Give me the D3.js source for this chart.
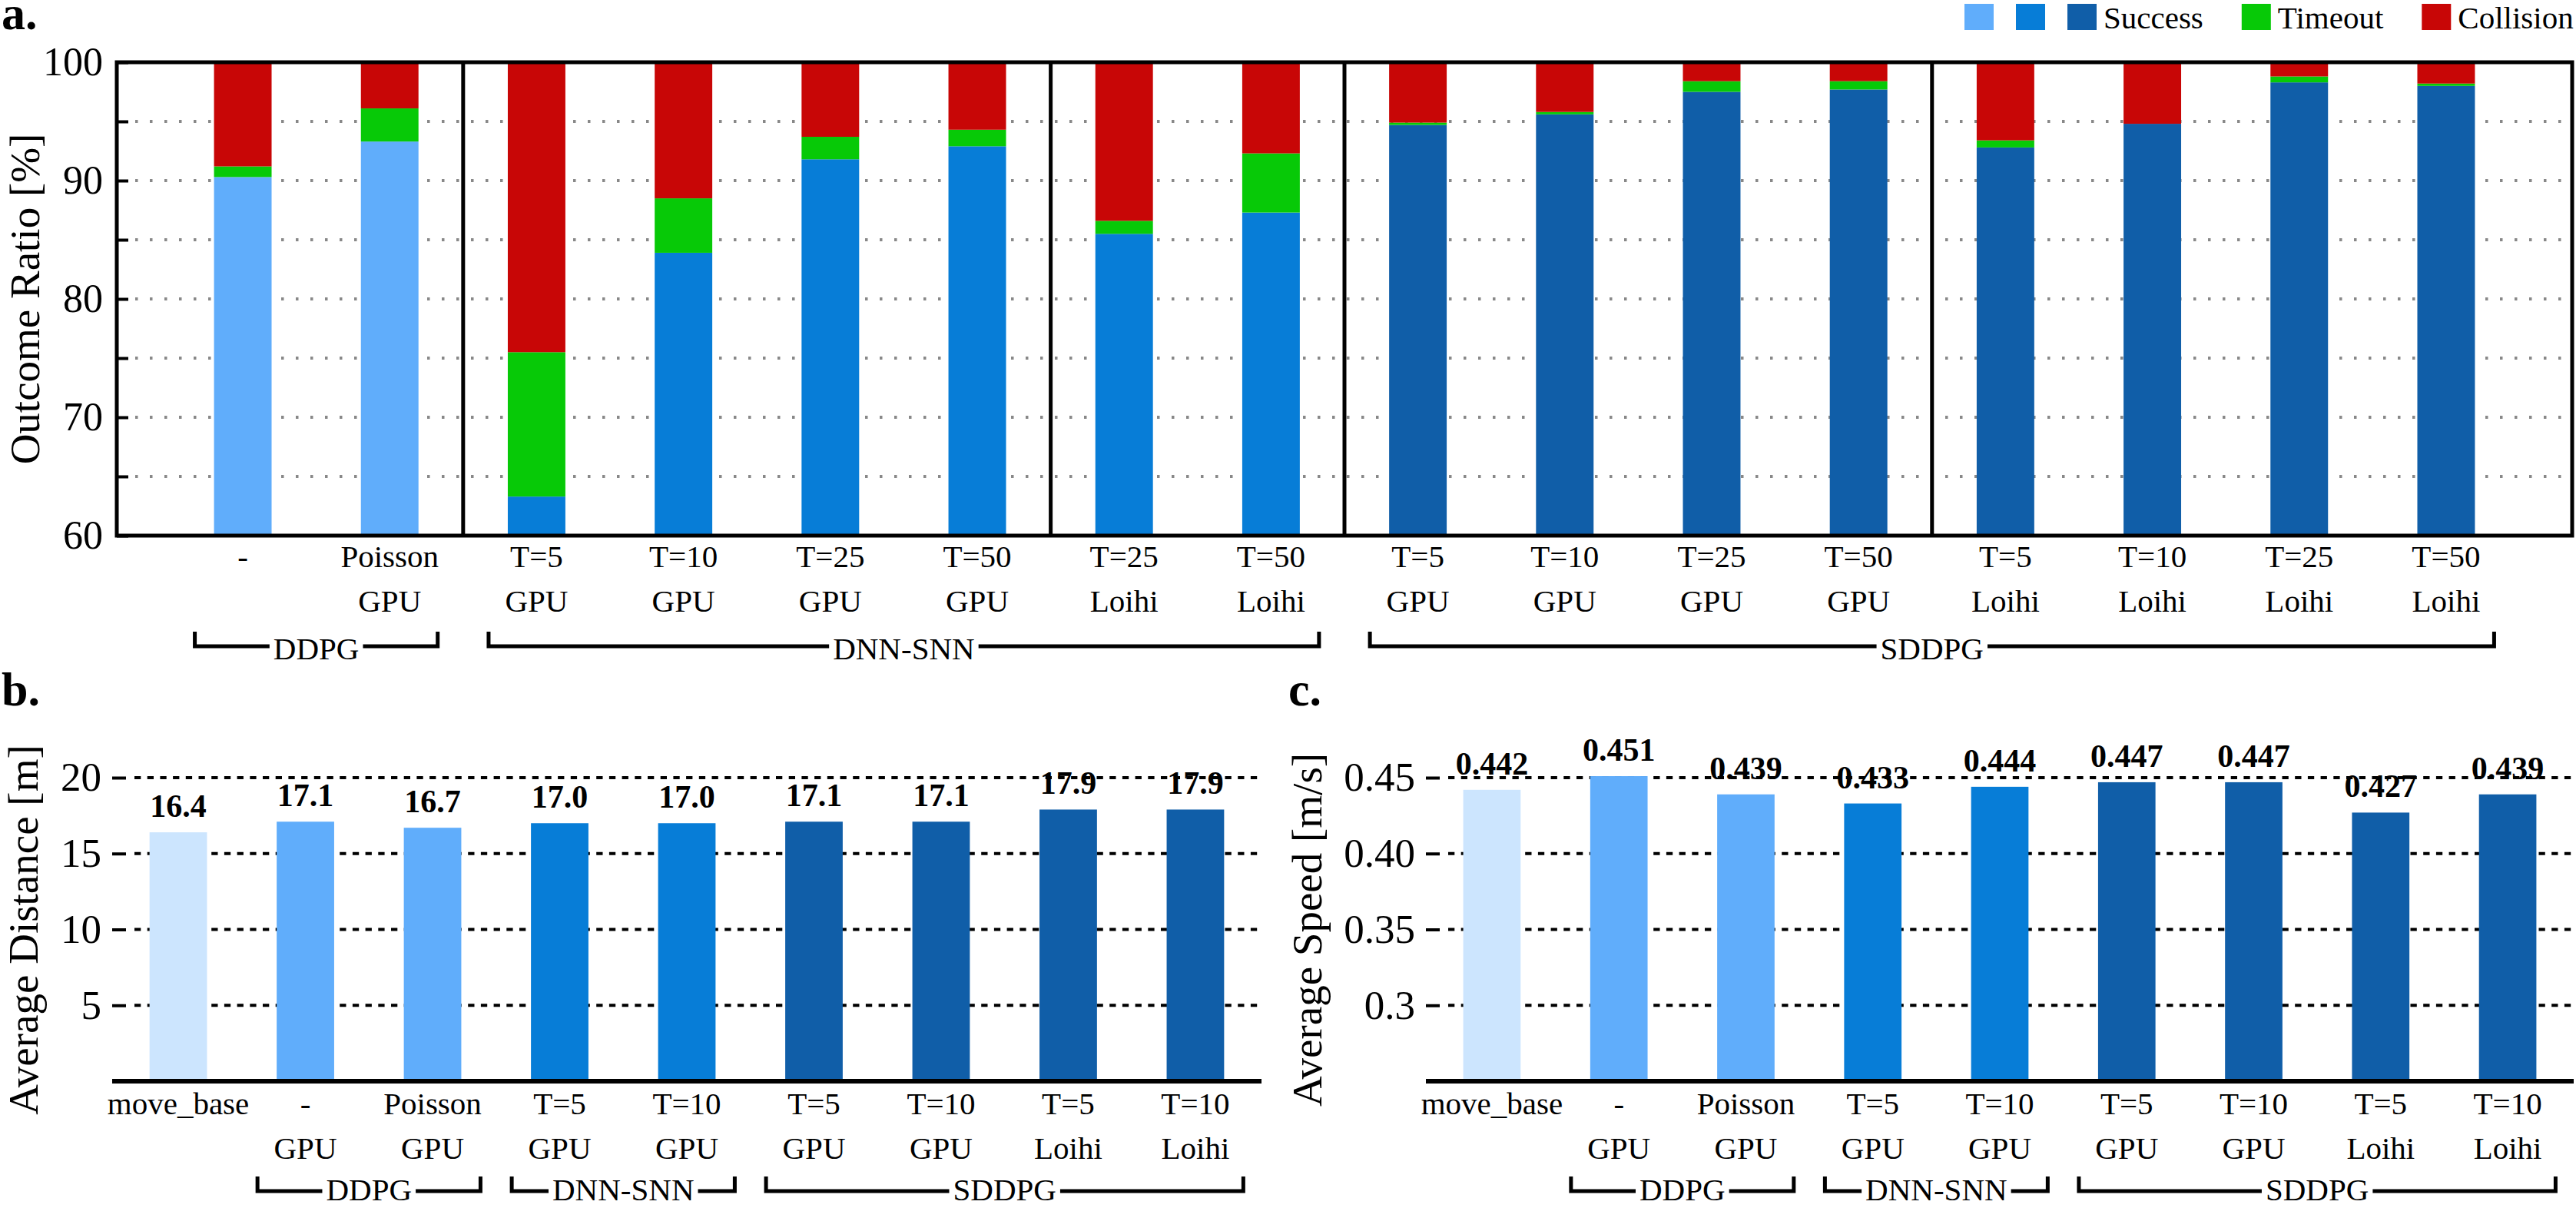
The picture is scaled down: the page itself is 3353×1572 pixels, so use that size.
<!DOCTYPE html>
<html>
<head>
<meta charset="utf-8">
<script src="https://cdn.jsdelivr.net/npm/d3@7"></script>
<style>
  body { margin: 0; background: #fff; }
  svg { display: block; font-family: 'Liberation Serif', 'Times New Roman', serif; }
</style>
</head>
<body>
<svg width="3353" height="1572"></svg>
<script>
// panel a: outcome ratio per configuration
const outcomeTop = ['-', 'Poisson', 'T=5', 'T=10', 'T=25', 'T=50', 'T=25', 'T=50',
  'T=5', 'T=10', 'T=25', 'T=50', 'T=5', 'T=10', 'T=25', 'T=50'];
const outcomeBottom = ['', 'GPU', 'GPU', 'GPU', 'GPU', 'GPU', 'Loihi', 'Loihi',
  'GPU', 'GPU', 'GPU', 'GPU', 'Loihi', 'Loihi', 'Loihi', 'Loihi'];
const outcomeMethod = ['DDPG', 'DDPG', 'DNN-SNN', 'DNN-SNN', 'DNN-SNN', 'DNN-SNN', 'DNN-SNN', 'DNN-SNN',
  'SDDPG', 'SDDPG', 'SDDPG', 'SDDPG', 'SDDPG', 'SDDPG', 'SDDPG', 'SDDPG'];
const success = [90.3, 93.3, 63.3, 83.9, 91.8, 92.9, 85.5, 87.3, 94.7, 95.6, 97.5, 97.7, 92.8, 94.8, 98.3, 98.0];
const timeout = [0.9, 2.8, 12.2, 4.6, 1.9, 1.4, 1.1, 5.0, 0.2, 0.2, 0.9, 0.7, 0.6, 0.0, 0.5, 0.2];
const collision = [8.8, 3.9, 24.5, 11.5, 6.3, 5.7, 13.4, 7.7, 5.1, 4.2, 1.6, 1.6, 6.6, 5.2, 1.2, 1.8];
const outcomeTicks = [60, 65, 70, 75, 80, 85, 90, 95, 100];

// panels b and c: navigation distance / speed
const navTop = ['move_base', '-', 'Poisson', 'T=5', 'T=10', 'T=5', 'T=10', 'T=5', 'T=10'];
const navBottom = ['', 'GPU', 'GPU', 'GPU', 'GPU', 'GPU', 'GPU', 'Loihi', 'Loihi'];
const navMethod = ['move_base', 'DDPG', 'DDPG', 'DNN-SNN', 'DNN-SNN', 'SDDPG', 'SDDPG', 'SDDPG', 'SDDPG'];
const avgDistance = [16.4, 17.1, 16.7, 17.0, 17.0, 17.1, 17.1, 17.9, 17.9];
const avgSpeed = [0.442, 0.451, 0.439, 0.433, 0.444, 0.447, 0.447, 0.427, 0.439];
const distanceTicks = [5, 10, 15, 20];
const distanceTickLabels = ['5', '10', '15', '20'];
const speedTicks = [0.3, 0.35, 0.4, 0.45];
const speedTickLabels = ['0.3', '0.35', '0.40', '0.45'];

// legend
const legendKeys = ['DDPG', 'DNN-SNN', 'SDDPG', 'timeout', 'collision'];
const legendLabels = ['', '', 'Success', 'Timeout', 'Collision'];

const GREEN = '#07c907';
const RED = '#c80606';
const color = d3.scaleOrdinal()
  .domain(['move_base', 'DDPG', 'DNN-SNN', 'SDDPG'])
  .range(['#cce5fe', '#60adfb', '#077dd7', '#105ea8']);

const svg = d3.select('svg');

// consecutive runs of the same method (move_base has no bracket)
function runs (methods) {
  let out = [];
  methods.forEach((m, i) => {
    if (m === 'move_base') return;
    let last = out[out.length - 1];
    if (last && last.name === m && last.to === i - 1) last.to = i;
    else out.push({name: m, from: i, to: i});
  });
  return out;
}

function xLabels (g, x, top, bottom, y0) {
  let lines = [[top, y0], [bottom, y0 + 58]];
  lines.forEach(([labels, y]) => {
    g.append('g').selectAll('text')
      .data(labels).enter()
      .append('text')
      .attr('x', (d, i) => x(i) + x.bandwidth() / 2)
      .attr('y', y)
      .attr('text-anchor', 'middle')
      .attr('font-size', 41)
      .text(d => d);
  });
}

function brackets (g, x, methods, yLine, yText) {
  runs(methods).forEach(r => {
    let x0 = x(r.from) - 25;
    let x1 = x(r.to) + x.bandwidth() + 25;
    let mid = (x0 + x1) / 2;
    let label = g.append('text')
      .attr('x', mid).attr('y', yText)
      .attr('text-anchor', 'middle')
      .attr('font-size', 41)
      .text(r.name);
    let w = label.node().getComputedTextLength();
    g.append('path')
      .attr('d', `M${x0},${yLine - 19}V${yLine}H${mid - w / 2 - 5}M${mid + w / 2 + 5},${yLine}H${x1}V${yLine - 19}`)
      .attr('fill', 'none')
      .attr('stroke', '#000')
      .attr('stroke-width', 5);
  });
}

function styleAxis (g, size) {
  g.attr('font-size', size).attr('font-family', null);
  g.select('.domain').remove();
  g.selectAll('.tick line').attr('stroke-width', 4);
}

// ---------- panel a ----------
const xA = d3.scaleBand().domain(d3.range(success.length))
  .range([152, 3348]).paddingInner(0.608).paddingOuter(0.662);
const yA = d3.scaleLinear().domain([60, 100]).range([697, 81]);
const ga = svg.append('g');

ga.append('g').selectAll('line')
  .data(outcomeTicks.filter(t => t > 60 && t < 100)).enter()
  .append('line')
  .attr('x1', 176).attr('x2', 3345)
  .attr('y1', d => yA(d)).attr('y2', d => yA(d))
  .attr('stroke', '#888')
  .attr('stroke-width', 4)
  .attr('stroke-dasharray', '3.5 15.5');

const outcomeRows = success.map((s, i) => ({i, success: s, timeout: timeout[i], collision: collision[i]}));
const layers = d3.stack().keys(['success', 'timeout', 'collision'])(outcomeRows);

ga.append('g').selectAll('g')
  .data(layers).enter()
  .append('g')
  .selectAll('rect')
  .data(layer => layer.map(d => ({key: layer.key, d}))).enter()
  .append('rect')
  .attr('x', ({d}) => xA(d.data.i))
  .attr('width', xA.bandwidth())
  .attr('y', ({d}) => yA(Math.min(100, d[1])))
  .attr('height', ({d}) => Math.max(0, yA(Math.max(60, d[0])) - yA(Math.min(100, d[1]))))
  .attr('fill', ({key, d}) => key === 'success' ? color(outcomeMethod[d.data.i]) : key === 'timeout' ? GREEN : RED);

// dividers where method or hardware changes
const dividers = d3.range(1, success.length).filter(i =>
  outcomeMethod[i] !== outcomeMethod[i - 1] ||
  (outcomeBottom[i - 1] !== '' && outcomeBottom[i] !== outcomeBottom[i - 1]));
ga.append('g').selectAll('line')
  .data(dividers).enter()
  .append('line')
  .attr('x1', i => (xA(i - 1) + xA(i) + xA.bandwidth()) / 2)
  .attr('x2', i => (xA(i - 1) + xA(i) + xA.bandwidth()) / 2)
  .attr('y1', yA(100)).attr('y2', yA(60))
  .attr('stroke', '#000').attr('stroke-width', 5);

ga.append('rect')
  .attr('x', 152).attr('y', yA(100))
  .attr('width', 3348 - 152).attr('height', yA(60) - yA(100))
  .attr('fill', 'none').attr('stroke', '#000').attr('stroke-width', 5);

ga.append('g')
  .attr('transform', 'translate(152,0)')
  .call(d3.axisLeft(yA).tickValues(outcomeTicks).tickSize(-15).tickPadding(18)
    .tickFormat(d => d % 10 === 0 ? d : ''))
  .call(g => styleAxis(g, 52));

ga.append('text')
  .attr('transform', `translate(51,${(yA(60) + yA(100)) / 2}) rotate(-90)`)
  .attr('text-anchor', 'middle')
  .attr('font-size', 55)
  .text('Outcome Ratio [%]');

xLabels(ga, xA, outcomeTop, outcomeBottom, 738);
brackets(ga, xA, outcomeMethod, 841, 858);

// legend
let lx = 2557;
const legend = svg.append('g');
legendKeys.forEach((k, i) => {
  legend.append('rect')
    .attr('x', lx).attr('y', 5).attr('width', 38).attr('height', 34)
    .attr('fill', k === 'timeout' ? GREEN : k === 'collision' ? RED : color(k));
  lx += 38;
  if (legendLabels[i]) {
    let t = legend.append('text')
      .attr('x', lx + 9).attr('y', 37)
      .attr('font-size', 41)
      .text(legendLabels[i]);
    lx += 9 + t.node().getComputedTextLength() + 50;
  } else {
    lx += 29;
  }
});

svg.append('text').attr('x', 2).attr('y', 38)
  .attr('font-size', 62).attr('font-weight', 'bold').text('a.');
svg.append('text').attr('x', 2).attr('y', 918)
  .attr('font-size', 62).attr('font-weight', 'bold').text('b.');
svg.append('text').attr('x', 1677).attr('y', 918)
  .attr('font-size', 62).attr('font-weight', 'bold').text('c.');

// ---------- panels b, c ----------
function navPanel (opts) {
  let g = svg.append('g');
  let x = d3.scaleBand().domain(d3.range(opts.values.length))
    .range([opts.left, opts.right]).paddingInner(0.548).paddingOuter(0.294);
  let y = d3.scaleLinear().domain(opts.domain).range([1407, 1012]);

  g.append('g').selectAll('line')
    .data(opts.ticks).enter()
    .append('line')
    .attr('x1', opts.left + 29).attr('x2', opts.right)
    .attr('y1', d => y(d)).attr('y2', d => y(d))
    .attr('stroke', '#000')
    .attr('stroke-width', 4)
    .attr('stroke-dasharray', '8.3 8.4');

  g.append('g').selectAll('rect')
    .data(opts.values).enter()
    .append('rect')
    .attr('x', (d, i) => x(i))
    .attr('width', x.bandwidth())
    .attr('y', d => y(d))
    .attr('height', d => y(opts.domain[0]) - y(d))
    .attr('fill', (d, i) => color(navMethod[i]));

  g.append('g').selectAll('text')
    .data(opts.values).enter()
    .append('text')
    .attr('x', (d, i) => x(i) + x.bandwidth() / 2)
    .attr('y', d => y(d) - 20)
    .attr('text-anchor', 'middle')
    .attr('font-size', 42)
    .attr('font-weight', 'bold')
    .text(opts.format);

  g.append('line')
    .attr('x1', opts.left).attr('x2', opts.right)
    .attr('y1', 1407).attr('y2', 1407)
    .attr('stroke', '#000').attr('stroke-width', 6);

  g.append('g')
    .attr('transform', `translate(${opts.left},0)`)
    .call(d3.axisLeft(y).tickValues(opts.ticks).tickSize(-18).tickPadding(14)
      .tickFormat((d, i) => opts.tickLabels[i]))
    .call(ax => styleAxis(ax, 53));

  g.append('text')
    .attr('transform', `translate(${opts.titleX},1210) rotate(-90)`)
    .attr('text-anchor', 'middle')
    .attr('font-size', 55)
    .text(opts.title);

  xLabels(g, x, navTop, navBottom, 1450);
  brackets(g, x, navMethod, 1550, 1562);
}

navPanel({
  left: 146, right: 1642, values: avgDistance, domain: [0, 20],
  ticks: distanceTicks, tickLabels: distanceTickLabels,
  format: d => d.toFixed(1), title: 'Average Distance [m]', titleX: 49
});
navPanel({
  left: 1856, right: 3350, values: avgSpeed, domain: [0.25, 0.45],
  ticks: speedTicks, tickLabels: speedTickLabels,
  format: d => d.toFixed(3), title: 'Average Speed [m/s]', titleX: 1720
});
</script>
</body>
</html>
